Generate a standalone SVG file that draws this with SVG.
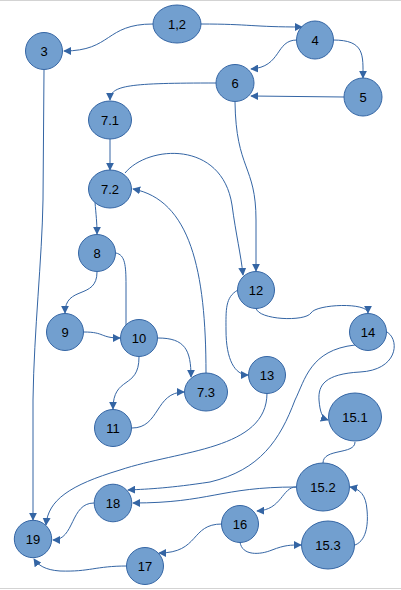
<svg xmlns="http://www.w3.org/2000/svg" width="401" height="590" viewBox="0 0 401 590">
  <style>
    .node ellipse { fill: #729fcf; stroke: #3465a4; stroke-width: 1; }
    .node text { font-family: "Liberation Sans", Arial, sans-serif; font-size: 13px; fill: #000; text-anchor: middle; dominant-baseline: central; }
    #connectors path { fill: none; stroke: #3465a4; stroke-width: 1; }
    #connectors path.arrow { marker-end: url(#head); }
  </style>
  <defs>
    <marker id="head" viewBox="0 0 10 10" refX="9" refY="5" markerWidth="8" markerHeight="8" markerUnits="userSpaceOnUse" orient="auto">
      <path d="M0,0 L10,5 L0,10 Z" fill="#3465a4"/>
    </marker>
  </defs>
  <rect x="0" y="0" width="401" height="590" fill="#fff"/>
  <line x1="0" y1="0.5" x2="401" y2="0.5" stroke="#d3d3d3" stroke-width="1"/>
  <line x1="0" y1="588.5" x2="401" y2="588.5" stroke="#d3d3d3" stroke-width="1"/>

  <g id="connectors">
    <path class="arrow" d="M153,24 C105,24 112,51 64,51"/>
    <path class="arrow" d="M201,24 C250,24 252,27 302,27"/>
    <path class="arrow" d="M297,40 C275,40 282,67 251,69"/>
    <path class="arrow" d="M333,40 C365,40 363,55 363,78"/>
    <path class="arrow" d="M344,97 L251,96"/>
    <path class="arrow" d="M216,83 C130,83 110,85 110,100"/>
    <path class="arrow" d="M110,139 L110,170"/>
    <path class="arrow" d="M125,173 C148,145 222,140 232,205 C236,235 241,255 243,275"/>
    <path class="arrow" d="M235,102 C236,170 256,165 256,220 L256,271"/>
    <path class="arrow" d="M206,373 C206,270 190,200 133,189"/>
    <path class="arrow" d="M95,202 C96,215 97,222 97,234"/>
    <path class="arrow" d="M97,272 C97,300 65,285 65,313"/>
    <path d="M116,253 C125,255 126,265 126,285 L126,325"/>
    <path class="arrow" d="M84,332 C105,332 100,338 120,338"/>
    <path class="arrow" d="M158,338 C185,338 191,350 191,377"/>
    <path class="arrow" d="M139,357 C139,390 113,375 113,409"/>
    <path class="arrow" d="M132,428 C160,428 155,392 184,392"/>
    <path class="arrow" d="M238,290 C225,297 226,310 226,330 C226,360 235,375 248,375"/>
    <path class="arrow" d="M256,308 C258,320 305,322 311,313 C316,304 368,302 368,313"/>
    <path class="arrow" d="M267,393 C267,450 180,450 120,470 C70,485 48,500 46,525"/>
    <path class="arrow" d="M355,345 C310,350 305,380 295,400 C280,440 260,470 210,482 C170,488 150,489 128,490"/>
    <path class="arrow" d="M387,332 C400,340 398,370 360,372 C325,374 318,385 319,400 C320,412 322,418 328,420"/>
    <path d="M355,442 C355,455 323,448 323,463"/>
    <path class="arrow" d="M296,487 C220,487 210,503 133,503"/>
    <path class="arrow" d="M296,487 C282,487 282,510 257,511"/>
    <path class="arrow" d="M355,545 C368,540 368,520 367,510 C366,495 360,489 350,487"/>
    <path class="arrow" d="M240,542 C242,556 260,555 272,550 C285,545 290,545 301,545"/>
    <path class="arrow" d="M222,524 C190,524 200,553 159,553"/>
    <path class="arrow" d="M127,566 C95,566 90,572 60,571 C45,570 38,565 34,559"/>
    <path class="arrow" d="M94,503 C70,503 75,540 53,540"/>
    <path class="arrow" d="M44,70 L43,200 C42,260 34,330 33,400 L33,520"/>
  </g>

  <g id="n12" class="node"><ellipse cx="177" cy="24" rx="24" ry="19"/><text x="177" y="24">1,2</text></g>
  <g id="n3" class="node"><ellipse cx="44" cy="51" rx="18.5" ry="18.5"/><text x="44" y="51">3</text></g>
  <g id="n4" class="node"><ellipse cx="315" cy="40" rx="18.5" ry="19"/><text x="315" y="40">4</text></g>
  <g id="n6" class="node"><ellipse cx="235" cy="83" rx="19" ry="18.5"/><text x="235" y="83">6</text></g>
  <g id="n5" class="node"><ellipse cx="363" cy="97" rx="19" ry="19"/><text x="363" y="97">5</text></g>
  <g id="n71" class="node"><ellipse cx="110" cy="120" rx="21.5" ry="19"/><text x="110" y="120">7.1</text></g>
  <g id="n72" class="node"><ellipse cx="110" cy="189" rx="21.5" ry="19"/><text x="110" y="189">7.2</text></g>
  <g id="n8" class="node"><ellipse cx="97" cy="253" rx="18.5" ry="18.5"/><text x="97" y="253">8</text></g>
  <g id="n9" class="node"><ellipse cx="65" cy="332" rx="18.5" ry="18.5"/><text x="65" y="332">9</text></g>
  <g id="n10" class="node"><ellipse cx="139" cy="338" rx="18.5" ry="18.5"/><text x="139" y="338">10</text></g>
  <g id="n12b" class="node"><ellipse cx="256" cy="290" rx="18.5" ry="18.5"/><text x="256" y="290">12</text></g>
  <g id="n14" class="node"><ellipse cx="368" cy="332" rx="18.5" ry="18.5"/><text x="368" y="332">14</text></g>
  <g id="n13" class="node"><ellipse cx="267" cy="375" rx="18.5" ry="18.5"/><text x="267" y="375">13</text></g>
  <g id="n73" class="node"><ellipse cx="206" cy="392" rx="21.5" ry="19"/><text x="206" y="392">7.3</text></g>
  <g id="n11" class="node"><ellipse cx="113" cy="428" rx="18.5" ry="18.5"/><text x="113" y="428">11</text></g>
  <g id="n151" class="node"><ellipse cx="355" cy="417" rx="26.5" ry="24"/><text x="355" y="417">15.1</text></g>
  <g id="n152" class="node"><ellipse cx="323" cy="487" rx="26.5" ry="24"/><text x="323" y="487">15.2</text></g>
  <g id="n18" class="node"><ellipse cx="113" cy="503" rx="18.8" ry="18.8"/><text x="113" y="503">18</text></g>
  <g id="n16" class="node"><ellipse cx="240" cy="524" rx="18.5" ry="18.5"/><text x="240" y="524">16</text></g>
  <g id="n153" class="node"><ellipse cx="328" cy="545" rx="26.5" ry="24"/><text x="328" y="545">15.3</text></g>
  <g id="n19" class="node"><ellipse cx="33" cy="539" rx="18.7" ry="18.7"/><text x="33" y="539">19</text></g>
  <g id="n17" class="node"><ellipse cx="145" cy="566" rx="18.5" ry="18.5"/><text x="145" y="566">17</text></g>
</svg>
